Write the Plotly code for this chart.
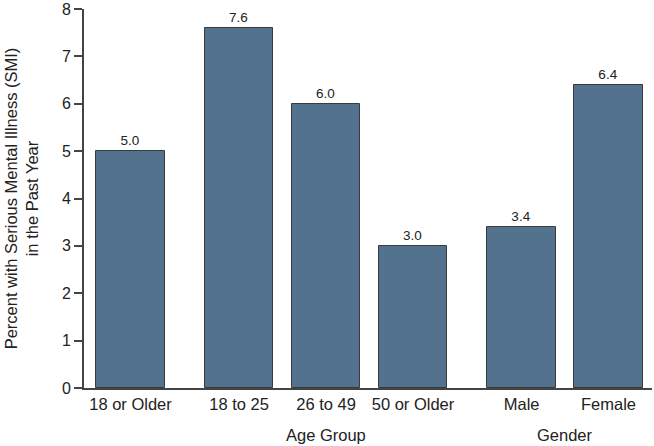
import plotly.graph_objects as go

categories = ["18 or Older", "18 to 25", "26 to 49", "50 or Older", "Male", "Female"]
values = [5.0, 7.6, 6.0, 3.0, 3.4, 6.4]
positions = [0, 1.25, 2.25, 3.25, 4.5, 5.5]
group_labels = ["Age Group", "Gender"]
group_centers = [2.25, 5.0]

FONT = "Liberation Sans, Arial, sans-serif"
TXT = "#222222"

fig = go.Figure(go.Bar(
    x=positions, y=values, width=0.79,
    marker=dict(color="#52728D", line=dict(color="#3a3a3a", width=1)),
    text=[f"{v:.1f}" for v in values], textposition="outside",
    textfont=dict(family=FONT, size=13.5, color=TXT), cliponaxis=False,
))

for lbl, c in zip(group_labels, group_centers):
    fig.add_annotation(x=c, xref="x", y=-0.124, yref="paper", text=lbl,
                       showarrow=False, yanchor="middle",
                       font=dict(family=FONT, size=16.5, color=TXT))

fig.update_layout(
    width=654, height=446,
    margin=dict(l=84, r=2, t=9, b=58),
    plot_bgcolor="white", paper_bgcolor="white",
    showlegend=False, bargap=0,
    font=dict(family=FONT, color=TXT),
)
fig.update_xaxes(
    range=[-0.535, 6.0], tickvals=positions, ticktext=categories,
    showgrid=False, zeroline=False, showline=True, linecolor="#444444", linewidth=2,
    ticks="", tickfont=dict(family=FONT, size=16.5, color=TXT), automargin=False,
)
fig.update_yaxes(
    range=[0, 8], dtick=1, showgrid=False, zeroline=False,
    showline=True, linecolor="#444444", linewidth=2,
    ticks="outside", ticklen=8, tickcolor="#444444", tickwidth=1.5,
    tickfont=dict(family=FONT, size=16, color=TXT), automargin=False,
    title=dict(text="Percent with Serious Mental Illness (SMI)<br>in the Past Year",
               font=dict(family=FONT, size=16.5, color=TXT), standoff=19),
)

fig.write_html("out.html", config={"displayModeBar": False},
               post_script="document.body.style.margin='0';document.body.style.overflow='hidden';")
